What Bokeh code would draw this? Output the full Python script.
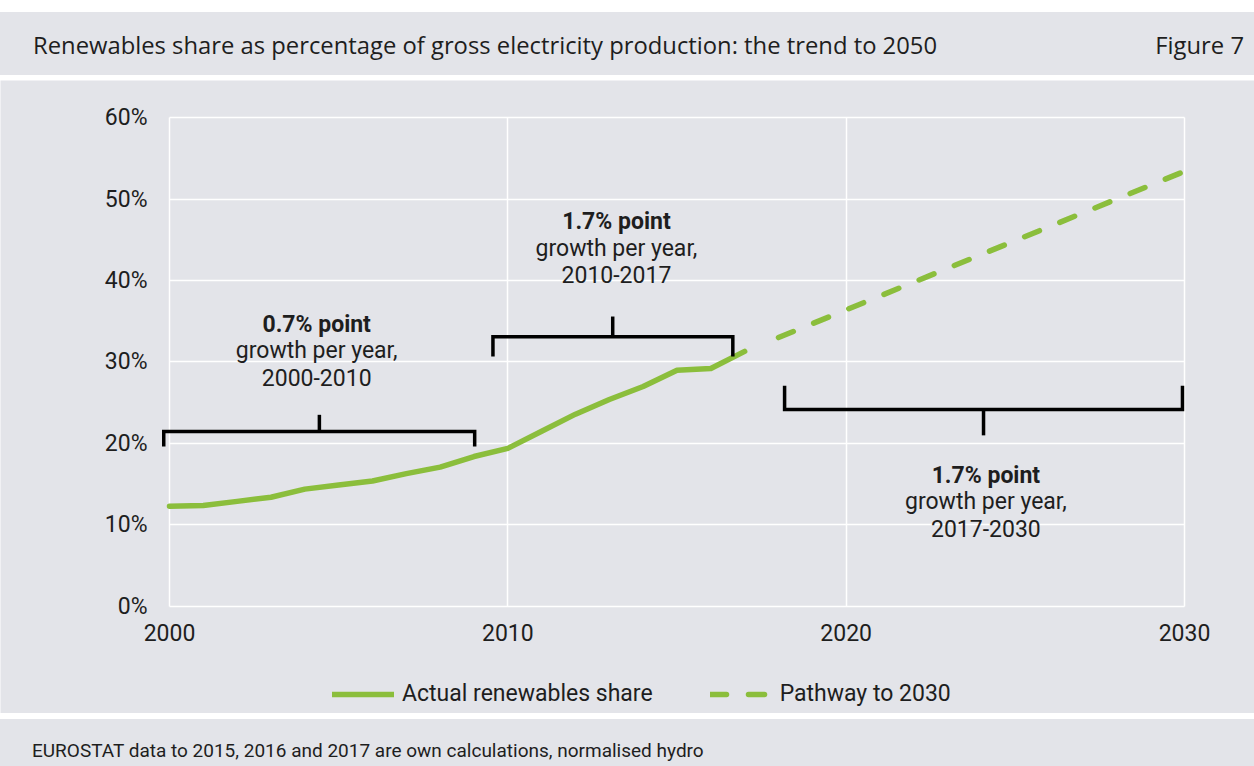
from bokeh.plotting import figure
from bokeh.models import FixedTicker, PrintfTickFormatter, Legend, LegendItem, Spacer, Div
from bokeh.layouts import column
from bokeh.core.properties import value
from bokeh.embed import file_html
from bokeh.resources import INLINE

# ---------------- data ----------------
TITLE = "Renewables share as percentage of gross electricity production: the trend to 2050"
FIG_LABEL = "Figure 7"
SOURCE = "EUROSTAT data to 2015, 2016 and 2017 are own calculations, normalised hydro"

years_actual = [2000, 2001, 2002, 2003, 2004, 2005, 2006, 2007, 2008,
                2009, 2010, 2011, 2012, 2013, 2014, 2015, 2016, 2017]
actual_share = [12.3, 12.4, 12.9, 13.4, 14.4, 14.9, 15.4, 16.3, 17.1,
                18.4, 19.4, 21.5, 23.6, 25.4, 27.0, 29.0, 29.2, 31.3]
years_path = [2018, 2030]
path_share = [33.0, 53.4]

x_ticks = [2000, 2010, 2020, 2030]
y_ticks = [0, 10, 20, 30, 40, 50, 60]

series_labels = ["Actual renewables share", "Pathway to 2030"]

# annotation brackets (years / percent)
br_left = [1999.83, 2009.56, 2018.18]
br_mid = [2004.43, 2013.10, 2024.06]
br_right = [2009.02, 2016.65, 2029.94]
br_bar = [21.47, 33.09, 24.17]
br_end = [19.63, 30.67, 27.10]
br_tip = [23.52, 35.58, 21.00]

ann_x = [2004.35, 2013.21, 2024.13]
ann_head = ["0.7% point", "1.7% point", "1.7% point"]
ann_line2 = ["growth per year,", "growth per year,", "growth per year,"]
ann_line3 = ["2000-2010", "2010-2017", "2017-2030"]
ann_y1 = [34.61, 47.21, 16.08]
ann_y2 = [31.35, 43.93, 12.83]
ann_y3 = [28.10, 40.74, 9.57]

# ---------------- style ----------------
BG = "#e3e4e9"
GREEN = "#8bbe3c"
TXT = "#1e1e1e"
FONT = "Roboto"
W = 1254

# ---------------- title band ----------------
title_html = (
    f'<div style="width:{W}px;height:63px;box-sizing:border-box;background:{BG};'
    f'display:flex;justify-content:space-between;align-items:flex-start;'
    f'padding:17px 10px 0 33px;font-family:\'Open Sans\';font-size:23.8px;'
    f'line-height:normal;color:{TXT};white-space:nowrap;margin:0">'
    f'<span>{TITLE}</span><span>{FIG_LABEL}</span></div>'
)
t = Div(text=title_html, width=W, height=63, margin=0)

# ---------------- main chart ----------------
# the frame fills the whole panel (nothing is clipped); both axes are pinned
# at 2000 / 0% and the grid is bounded to the 2000-2030 x 0-60% box
p = figure(width=W, height=633, output_backend="svg", toolbar_location=None,
           x_range=(1995.005, 2032.069), y_range=(-13.129, 64.540),
           background_fill_color=BG, border_fill_color=BG, outline_line_color=None,
           min_border=0)

for ax in (p.xaxis[0], p.yaxis[0]):
    ax.axis_line_color = None
    ax.major_tick_line_color = None
    ax.minor_tick_line_color = None
    ax.major_label_text_font = FONT
    ax.major_label_text_font_size = "23px"
    ax.major_label_text_color = TXT
p.xaxis.ticker = FixedTicker(ticks=x_ticks)
p.yaxis.ticker = FixedTicker(ticks=y_ticks)
p.yaxis.formatter = PrintfTickFormatter(format="%d%%")
p.yaxis.major_label_standoff = 16
p.xaxis.major_label_standoff = 12
p.xaxis.fixed_location = 0
p.yaxis.fixed_location = 2000

p.xgrid.ticker = FixedTicker(ticks=x_ticks)
p.ygrid.ticker = FixedTicker(ticks=y_ticks)
for g in (p.xgrid[0], p.ygrid[0]):
    g.grid_line_color = "white"
    g.grid_line_width = 1.5
p.xgrid[0].bounds = (2000, 2030)
p.xgrid[0].cross_bounds = (0, 60)
p.ygrid[0].bounds = (0, 60)
p.ygrid[0].cross_bounds = (2000, 2030)

r1 = p.line(years_actual, actual_share, line_color=GREEN, line_width=5.5,
            line_cap="round", line_join="round")
r2 = p.line(years_path, path_share, line_color=GREEN, line_width=5.5,
            line_cap="round", line_dash="16 22")

# brackets
bxs, bys = [], []
for l, m, r, bar, end, tip in zip(br_left, br_mid, br_right, br_bar, br_end, br_tip):
    bxs.append([l, l, r, r]); bys.append([end, bar, bar, end])
    bxs.append([m, m]); bys.append([bar, tip])
p.multi_line(bxs, bys, line_color="black", line_width=3.5, line_join="miter")

p.text(ann_x, ann_y1, text=ann_head, text_font=value(FONT), text_font_size=value("23px"),
       text_font_style="bold", text_align="center", text_baseline="alphabetic", text_color=TXT)
p.text(ann_x, ann_y2, text=ann_line2, text_font=value(FONT), text_font_size=value("23px"),
       text_align="center", text_baseline="alphabetic", text_color=TXT)
p.text(ann_x, ann_y3, text=ann_line3, text_font=value(FONT), text_font_size=value("23px"),
       text_align="center", text_baseline="alphabetic", text_color=TXT)

legend = Legend(items=[LegendItem(label=series_labels[0], renderers=[r1]),
                       LegendItem(label=series_labels[1], renderers=[r2])],
                orientation="horizontal", location=(332, 6),
                glyph_width=62, glyph_height=22, label_standoff=8, spacing=57,
                padding=0, margin=0, border_line_color=None, background_fill_alpha=0,
                label_text_font=FONT, label_text_font_size="23px", label_text_color=TXT)
p.add_layout(legend)

# ---------------- footer ----------------
foot_html = (
    f'<div style="width:{W}px;height:47px;box-sizing:border-box;background:{BG};'
    f'padding:20px 0 0 32px;font-family:Roboto;font-size:19px;line-height:normal;'
    f'color:{TXT};white-space:nowrap;margin:0">{SOURCE}</div>'
)
f = Div(text=foot_html, width=W, height=47, margin=0)

layout = column(Spacer(height=12), t, Spacer(height=5), p, Spacer(height=6), f, spacing=0)

open("out.html", "w").write(file_html(layout, INLINE))
